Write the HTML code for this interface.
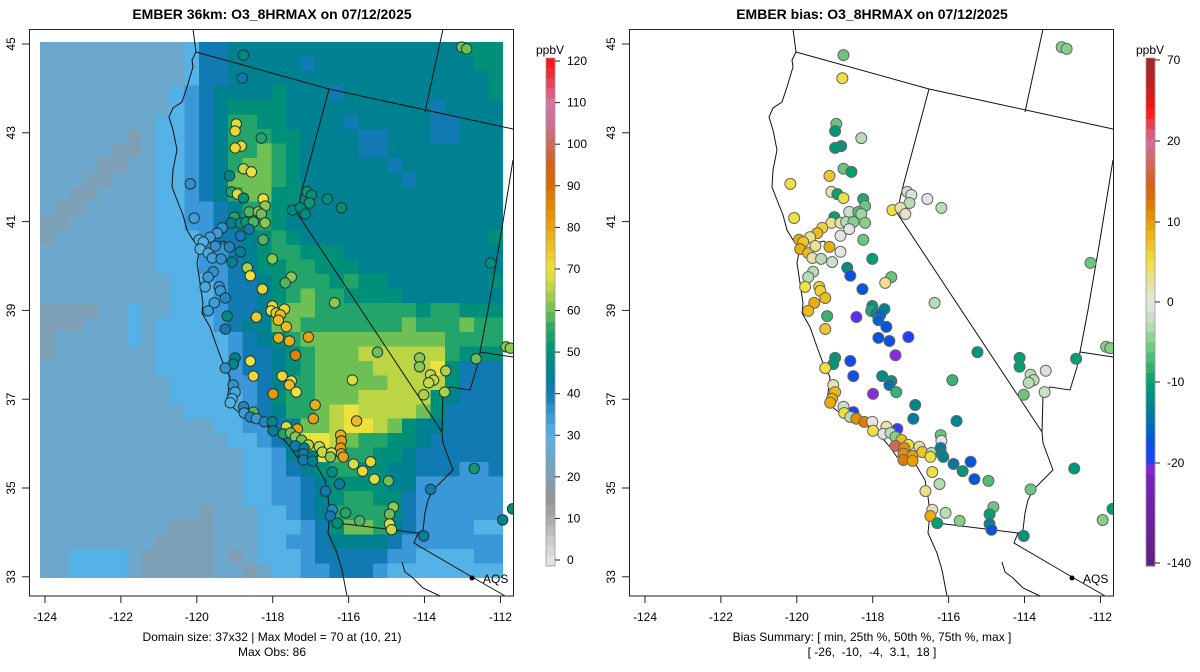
<!DOCTYPE html>
<html><head><meta charset="utf-8"><title>EMBER O3_8HRMAX</title>
<style>
html,body{margin:0;padding:0;background:#fff;}
svg{display:block;font-family:"Liberation Sans",Arial,sans-serif;}
</style></head>
<body>
<svg id="fig" width="1200" height="672" viewBox="0 0 1200 672" xmlns="http://www.w3.org/2000/svg">
<defs>
<clipPath id="clipL"><rect x="29" y="29" width="484" height="567"/></clipPath>
<clipPath id="clipR"><rect x="629" y="29" width="484" height="567"/></clipPath>
</defs>
<text x="272" y="19" text-anchor="middle" font-size="14" font-weight="bold">EMBER 36km: O3_8HRMAX on 07/12/2025</text>
<text x="872" y="19" text-anchor="middle" font-size="14" font-weight="bold">EMBER bias: O3_8HRMAX on 07/12/2025</text>
<g id="left"></g>
<g id="right"></g>
<text x="272" y="641" text-anchor="middle" font-size="12">Domain size: 37x32 | Max Model = 70 at (10, 21)</text>
<text x="272" y="656" text-anchor="middle" font-size="12">Max Obs: 86</text>
<text x="872" y="641" text-anchor="middle" font-size="12">Bias Summary: [ min, 25th %, 50th %, 75th %, max ]</text>
<text x="872" y="656" text-anchor="middle" font-size="12" xml:space="preserve">[ -26,  -10,  -4,  3.1,  18 ]</text>
</svg>
<script>
// ---- model grid (37 rows x 32 cols), char d -> 20+5*d ppbV, 'A' -> 70
const gridRows = [
"11111111112445555555555555555666",
"11111111112445555545555555555566",
"11111111112445555555555555555556",
"11111111123455556555455555555556",
"11111111123456666555555555545555",
"11111111223457766555545555544555",
"11111101223457776655554455544555",
"11111001223457787655554455555555",
"11110011223457887655555545555555",
"11100111223458887655555554555555",
"11001111223457886655555555555555",
"10011111223345776655555555555555",
"00111111223345776555555555555555",
"01111111222344567655555555555556",
"11111111222334567766655555555555",
"11111111222334566776665555555555",
"11111111122234456777676655555556",
"11111111122234456787766665555555",
"00001121122234457887777777677666",
"00011121222234558877777778777877",
"01111121222223456788888888887777",
"01111111222223445678889999997666",
"111111112222234456788889999A6444",
"11111111122223345778888899996444",
"11111111122222346778889999965444",
"111111111122223457789A9999864444",
"111111111111223345889AA986554444",
"111111111111122345AA987766544444",
"111111111111112235AA877665444444",
"11111111111111223456776655444334",
"11111111111111223345666655333333",
"11111111111111223345677664333333",
"11111111111011122345777764333333",
"11111111100011122234688754333322",
"11111111000011122334555543333333",
"11222210000010122234444433222233",
"11222210000011012233444322222222"
];
// ---- stations
const stLon = [-118.77,-118.80,-118.96,-118.99,-118.30,-118.83,-118.99,-118.77,-118.56,-119.14,-120.17,-119.09,-118.93,-118.77,-118.25,-118.20,-117.09,-116.98,-117.03,-116.56,-116.19,-117.48,-117.27,-117.14,-120.07,-118.62,-118.38,-118.30,-119.01,-119.09,-118.85,-118.70,-118.51,-118.20,-118.62,-119.33,-119.46,-119.65,-119.94,-119.83,-119.91,-119.70,-119.51,-119.14,-118.85,-118.85,-118.25,-119.59,-119.36,-119.07,-118.01,-119.57,-119.70,-118.67,-118.59,-117.51,-117.67,-118.27,-119.78,-119.41,-119.38,-119.25,-119.54,-119.70,-119.20,-118.43,-118.01,-117.69,-118.04,-117.91,-117.80,-117.85,-117.64,-119.25,-117.85,-117.56,-117.06,-116.37,-117.40,-115.24,-118.99,-119.04,-118.59,-119.25,-118.51,-117.75,-117.51,-117.56,-117.38,-115.90,-119.04,-118.99,-119.07,-119.12,-117.99,-116.88,-118.77,-118.51,-118.75,-118.59,-118.43,-118.22,-118.01,-116.93,-115.79,-117.64,-117.35,-117.99,-117.72,-117.53,-117.40,-117.24,-117.06,-116.77,-116.69,-117.40,-117.17,-117.19,-117.19,-116.95,-116.95,-116.45,-116.48,-116.21,-116.19,-116.21,-116.19,-116.14,-115.87,-115.63,-115.42,-115.32,-114.95,-116.43,-116.24,-116.61,-116.43,-116.48,-116.08,-116.30,-115.71,-114.82,-114.92,-114.92,-114.87,-113.02,-112.89,-112.26,-114.13,-114.13,-113.84,-113.76,-113.89,-113.44,-114.02,-113.47,-112.64,-111.85,-111.74,-112.69,-113.84,-114.02,-111.94,-111.68];
const stLat = [44.75,44.23,43.20,43.04,42.88,42.70,42.66,42.19,42.12,42.03,41.85,41.67,41.62,41.53,41.51,41.35,41.67,41.60,41.42,41.51,41.31,41.26,41.31,41.17,41.08,41.22,41.22,41.17,41.10,40.97,40.97,40.99,40.99,40.97,40.83,40.86,40.74,40.65,40.59,40.54,40.38,40.29,40.45,40.43,40.68,40.32,40.59,40.18,40.16,40.09,40.16,39.87,39.75,39.96,39.78,39.75,39.62,39.48,39.53,39.53,39.44,39.28,39.17,38.99,38.87,38.85,39.10,39.03,38.99,38.94,38.90,38.78,38.63,38.58,38.38,38.31,38.40,39.17,37.99,38.06,37.93,37.79,37.86,37.70,37.52,37.52,37.41,37.32,37.16,37.43,37.32,37.16,37.01,36.92,37.12,36.87,36.83,36.71,36.69,36.60,36.56,36.49,36.49,36.56,36.51,36.38,36.33,36.29,36.22,36.24,36.15,36.08,35.97,35.93,35.81,35.95,35.90,35.77,35.63,35.72,35.61,35.79,35.70,36.19,36.06,35.90,35.77,35.70,35.54,35.38,35.59,35.20,35.16,35.36,35.09,34.93,34.51,34.37,34.44,34.21,34.26,34.57,34.41,34.19,34.06,44.93,44.89,40.07,37.93,37.73,37.55,37.43,37.37,37.64,37.10,37.16,37.91,38.18,38.15,35.44,34.97,33.92,34.28,34.53];
const stObs = [48,41,68,72,55,72,72,66,70,47,36,55,68,50,70,62,52,50,52,50,50,47,48,48,34,58,62,60,55,45,48,52,58,62,42,36,34,34,30,30,30,32,36,38,40,44,58,34,36,44,62,36,35,64,70,62,58,72,32,35,35,38,34,34,48,74,72,72,70,74,76,76,76,40,78,78,80,62,86,60,45,46,70,36,72,72,70,76,70,68,36,32,30,30,82,78,38,58,34,38,35,38,46,80,76,68,80,45,55,60,62,60,65,66,66,40,45,42,40,45,45,70,62,78,80,82,80,80,68,72,72,68,60,48,42,40,38,40,55,50,58,62,60,68,66,60,60,50,62,62,66,66,66,64,64,64,60,62,62,52,40,42,45,50];
const stBias = [-6,5,-6,-11,-3,-11,-11,-6,-10,7,5,2,-10,5,-9,-6,-2,-1,-3,0,-3,5,2,1,5,-2,-7,-4,-10,3,2,-3,-5,-5,0,6,8,3,9,7,9,8,3,9,0,0,-6,2,-3,-2,-10,-3,-3,-12,-18,-6,3,-17,5,6,6,8,9,8,-8,-22,-11,-13,-9,-12,-16,-16,-17,7,-17,-18,-20,-3,-26,-11,-11,-11,-19,5,-18,-12,-11,-15,-8,-8,2,8,9,9,-26,-13,-2,-19,5,-3,11,12,0,-14,-13,2,-21,5,0,-3,-5,8,5,3,7,17,11,11,12,10,10,-3,5,-6,0,-14,-13,-13,-14,-11,-17,-17,-7,5,-3,3,2,9,-3,-10,-5,-6,-10,-13,-17,-5,-5,-6,-10,-10,-3,-3,-3,-1,-6,-2,-10,-5,-5,-11,-6,-11,-5,-10];
// ---- axis ticks
const lonTicks = [-124,-122,-120,-118,-116,-114,-112];
const latTicks = [45,43,41,39,37,35,33];
const obsTicks = [0,10,20,30,40,50,60,70,80,90,100,110,120];
const biasTicks = [-140,-20,-10,0,10,20,70];

const NS = "http://www.w3.org/2000/svg";
function mk(tag, attrs, parent){ const e=document.createElementNS(NS,tag); for(const k in attrs) e.setAttribute(k,attrs[k]); if(parent) parent.appendChild(e); return e; }

const xLon = lon => 45 + (lon + 124) * 37.95;
const yLat = lat => 44 + (45 - lat) * 44.4;
const gx = c => 40 + c * 14.47;
const gy = r => 42 + r * 14.49;
const cellW = 14.8, cellH = 14.8;

const obsStops = [[-5,"#e8e8e8"],[0,"#e4e4e4"],[5,"#c8c8c8"],[10,"#a9a9a9"],[15,"#939393"],[20,"#7ea0b6"],[25,"#6ba8cc"],[30,"#55b2e6"],[35,"#3a98d8"],[40,"#127ab2"],[45,"#008192"],[50,"#00907a"],[55,"#22a46a"],[60,"#6ec055"],[65,"#bcd545"],[70,"#ece23a"],[75,"#efc126"],[80,"#e8a20e"],[85,"#e28a00"],[90,"#d96c00"],[95,"#d3601c"],[100,"#cc6a5a"],[105,"#cd7095"],[110,"#d873a0"],[115,"#e6405a"],[120,"#ff1010"],[125,"#ff0000"]];
const biasStops = [[-140,"#602080"],[-30,"#7a22c0"],[-26,"#8a2be2"],[-22,"#5a30f0"],[-20,"#2040ff"],[-17,"#0056dc"],[-15,"#0070b0"],[-12.5,"#008888"],[-10,"#00a070"],[-7.5,"#44b872"],[-5,"#84d088"],[-2.5,"#c2e0c0"],[0,"#e4e4e4"],[2.5,"#e8e0a0"],[5,"#f0e040"],[7.5,"#f0c020"],[10,"#e8a000"],[12.5,"#dd7400"],[15,"#d86020"],[20,"#d070a0"],[30,"#e84050"],[40,"#ff1010"],[55,"#c02020"],[70,"#a02828"]];
function hex2rgb(h){return [parseInt(h.substr(1,2),16),parseInt(h.substr(3,2),16),parseInt(h.substr(5,2),16)];}
function interp(stops,v){
  if(v<=stops[0][0]) return stops[0][1];
  for(let i=1;i<stops.length;i++){
    if(v<=stops[i][0]){
      const t=(v-stops[i-1][0])/(stops[i][0]-stops[i-1][0]);
      const a=hex2rgb(stops[i-1][1]), b=hex2rgb(stops[i][1]);
      return "rgb("+a.map((x,j)=>Math.round(x+(b[j]-x)*t)).join(",")+")";
    }
  }
  return stops[stops.length-1][1];
}
const gridVal = ch => ch === "A" ? 70 : 20 + 5 * parseInt(ch, 10);

const geoLines = [
 [[193,29],[196,52],[192,60],[193,67],[187,87],[182,102],[173,108],[169,117],[173,130],[177,150],[173,170],[172,187],[177,200],[183,215],[187,230],[193,240],[200,247],[197,263],[200,283],[203,303],[202,313],[210,327],[217,347],[223,363],[230,377],[228,393],[227,403],[240,413],[257,420],[277,432],[290,447],[297,457],[313,460],[325,480],[328,497],[330,513],[328,533],[337,553],[342,570],[347,596]],
 [[200,240],[208,238],[216,243],[224,241],[230,247]],
 [[200,247],[206,252],[210,258]],
 [[196,52],[329,89],[513,129]],
 [[443,29],[425,112]],
 [[329,89],[302,190],[297,213],[442,432]],
 [[513,160],[500,240],[488,310],[480,352],[477,367],[470,390],[450,387],[443,395],[442,432],[443,443],[453,470],[443,480],[433,490],[428,500],[425,513],[423,530],[418,533]],
 [[480,352],[513,357]],
 [[337,523],[418,533],[414,543],[472,577],[500,593],[505,596]],
 [[402,562],[405,572],[413,578],[423,588],[440,596]]
];

function drawPanel(g, off, isBias){
  const clip = mk("g",{"clip-path": isBias?"url(#clipR)":"url(#clipL)"},g);
  if(!isBias){
    const hm = mk("g",{"shape-rendering":"crispEdges"},clip);
    
    
    gridRows.forEach((row,r)=>{
      for(let c=0;c<32;c++){
        const ch = row[c] || "1";
        const w = c===31 ? 14.47 : cellW, h = r===36 ? 14.49 : cellH;
        const cell = mk("rect",{x:gx(c)+off,y:gy(r),width:w,height:h,fill:interp(obsStops,gridVal(ch))},hm);
        
        
      }
    });
  }
  const geo = mk("g",{fill:"none",stroke:"#111","stroke-width":1},clip);
  
  
  geoLines.forEach(l=>{
    const p = mk("polyline",{points:l.map(q=>(q[0]+off)+","+q[1]).join(" ")},geo);
    
    
  });
  const aq = mk("circle",{cx:472+off,cy:578,r:2.5,fill:"#000"},g);
  
  
  const at = mk("text",{x:483+off,y:583,"font-size":12},g); at.textContent="AQS";
  
  
  const pts = mk("g",{},clip);
  
  
  for(let i=0;i<stLon.length;i++){
    const col = isBias ? interp(biasStops, stBias[i]) : interp(obsStops, stObs[i]);
    const c = mk("circle",{cx:xLon(stLon[i])+off,cy:yLat(stLat[i]),r:isBias?5.5:5.2,fill:col,stroke:isBias?"#666":"#1d3838","stroke-width":1},pts);
    
    
  }
  const ax = mk("g",{stroke:"#222","stroke-width":1,fill:"none"},g);
  
  
  mk("rect",{x:29.5+off,y:29.5,width:484,height:566.5},ax);
  lonTicks.forEach(t=>{
    const x=xLon(t)+off;
    mk("line",{x1:x,y1:596,x2:x,y2:603},ax);
    const tx=mk("text",{x:x,y:621,"text-anchor":"middle","font-size":12,fill:"#000",stroke:"none"},g);
    tx.textContent=String(t);
    
    
  });
  latTicks.forEach(t=>{
    const y=yLat(t);
    mk("line",{x1:22+off,y1:y,x2:29+off,y2:y},ax);
    const tx=mk("text",{x:0,y:0,"text-anchor":"middle","font-size":12,fill:"#000",transform:"translate("+(15+off)+","+y+") rotate(-90)"},g);
    tx.textContent=String(t);
    
    
  });
  const cb = mk("g",{},g);
  
  
  const bx=546+off, top=58, bot=566;
  let posOf, valAt;
  if(!isBias){
    posOf = v => 560 - v*4.158;
    valAt = y => (560 - y)/4.158;
  } else {
    const bv=[-140,-20,-10,0,10,20,70], by=[563,463,382,302,222,141,60];
    posOf = v => { for(let i=1;i<bv.length;i++){ if(v<=bv[i]) return by[i-1]+(v-bv[i-1])/(bv[i]-bv[i-1])*(by[i]-by[i-1]); } return 60; };
    valAt = y => { for(let i=1;i<by.length;i++){ if(y>=by[i]) return bv[i-1]+(y-by[i-1])/(by[i]-by[i-1])*(bv[i]-bv[i-1]); } return 70; };
  }
  const n=50, h=(bot-top)/n;
  for(let k=0;k<n;k++){
    const y0=top+k*h;
    const v=valAt(Math.min(Math.max(y0+h/2,60),563));
    const s=mk("rect",{x:bx,y:y0,width:9,height:h+0.6,fill:interp(isBias?biasStops:obsStops,v)},cb);
    
    
  }
  mk("rect",{x:bx,y:top,width:9,height:bot-top,fill:"none",stroke:"#999","stroke-width":0.8},cb);
  (isBias?biasTicks:obsTicks).forEach(t=>{
    const y=posOf(t);
    mk("line",{x1:bx+9,y1:y,x2:bx+14,y2:y,stroke:"#222","stroke-width":1},cb);
    const tl=mk("text",{x:bx+21,y:y+4,"font-size":12},cb);
    tl.textContent=String(t);
    
    
  });
  const u=mk("text",{x:bx+4,y:54,"text-anchor":"middle","font-size":12},cb);
  u.textContent="ppbV";
  
  
}
drawPanel(document.getElementById("left"),0,false);
drawPanel(document.getElementById("right"),600,true);
</script>
</body></html>
